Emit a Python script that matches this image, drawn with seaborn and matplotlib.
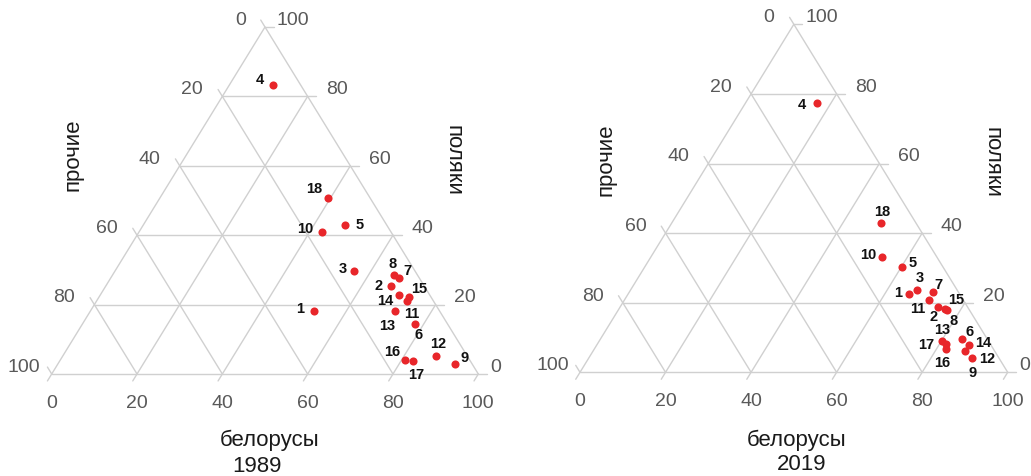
import numpy as np
import pandas as pd
import matplotlib
matplotlib.use("Agg")
import matplotlib.pyplot as plt
import seaborn as sns

# === Data (shares, %) ===
regions = [str(i) for i in range(1, 19)]
bel_1989 = [52.5, 66.9, 56.0, 10.1, 47.3, 78.0, 67.7, 65.9, 93.1, 43.0, 72.9, 87.5, 71.4, 70.1, 72.8, 80.8, 82.7, 39.5]
pol_1989 = [18.2, 25.3, 29.8, 83.4, 42.9, 14.4, 27.6, 28.6, 2.9, 40.8, 21.0, 5.1, 18.2, 22.8, 22.1, 4.1, 3.8, 50.6]
bel_2019 = [65.7, 74.4, 67.0, 16.7, 60.1, 84.4, 70.9, 76.9, 89.6, 54.0, 71.3, 86.9, 81.5, 87.1, 76.3, 82.2, 80.2, 49.0]
pol_2019 = [22.5, 18.7, 23.7, 77.3, 30.2, 9.6, 23.2, 17.8, 4.0, 33.0, 20.8, 6.2, 8.1, 7.8, 18.3, 6.7, 9.1, 42.8]
tick_values = [0, 20, 40, 60, 80, 100]

# === Label offsets (pixels, right / down) ===
offs_1989 = {"1": (-14, -3), "2": (-12, -1), "3": (-11, -3), "4": (-13, -6), "5": (15, -1),
             "6": (3, 10), "7": (8, -8), "8": (-1, -12), "9": (10, -7), "10": (-17, -4),
             "11": (4, 12), "12": (2, -13), "13": (-8, 14), "14": (-14, 5), "15": (10, -9),
             "16": (-13, -9), "17": (4, 13), "18": (-14, -10)}
offs_2019 = {"1": (-11, -2), "2": (-5, 9), "3": (3, -13), "4": (-15, 1), "5": (11, -5),
             "6": (8, -8), "7": (6, -8), "8": (7, 10), "9": (1, 14), "10": (-13, -3),
             "11": (-12, 8), "12": (22, 7), "13": (-4, -15), "14": (14, -3), "15": (11, -10),
             "16": (-4, 13), "17": (-16, 3), "18": (1, -12)}

W, H = 1031, 477
sns.set_style("white")
plt.rcParams["font.family"] = ["Liberation Sans", "DejaVu Sans"]

GRID = "#d0d0d0"
TICK = "#595959"
RED = "#e8262a"

fig = plt.figure(figsize=(W / 100, H / 100), dpi=100)


def ternary(left_px, right_px, x0, sx, y0, sy, bel, pol, offs, year, titles):
    ax = fig.add_axes([left_px / W, 0, (right_px - left_px) / W, 1])
    ax.set_xlim((left_px - x0) / sx, (right_px - x0) / sx)
    ax.set_ylim((y0 - H) / sy, y0 / sy)
    ax.set_axis_off()

    t = 2.0
    for v in tick_values:
        # polyaki (horizontal)
        ax.plot([v / 2, 100 - v / 2 + t], [v, v], color=GRID, lw=1, zorder=1)
        # belarusy
        ax.plot([v - 0.5 * t, v + (100 - v) / 2], [-t, 100 - v], color=GRID, lw=1, zorder=1)
        # prochie
        ax.plot([100 - v, (100 - v) / 2 - 0.5 * t], [0, 100 - v + t], color=GRID, lw=1, zorder=1)

        # tick labels
        gap_r = 2.8 if v in (0, 100) else 4.3
        gap_l = 2.6 if v == 100 else 4.5
        ax.text(v, -8.2, str(v), ha="center", va="center", fontsize=14, color=TICK)
        ax.text(100 - v / 2 + gap_r, v + 2.2, str(v), ha="left", va="center", fontsize=14, color=TICK)
        ax.text((100 - v) / 2 - gap_l, 100 - v + 2.2, str(v), ha="right", va="center",
                fontsize=14, color=TICK)

    df = pd.DataFrame({"region": regions, "bel": bel, "pol": pol})
    df["x"] = df["bel"] + df["pol"] / 2
    sns.scatterplot(data=df, x="x", y="pol", ax=ax, color=RED, s=34, linewidth=0, zorder=3)
    for _, r in df.iterrows():
        dx, dy = offs[r["region"]]
        ax.annotate(r["region"], (r["x"], r["pol"]), xytext=(dx, -dy),
                    textcoords="offset pixels", ha="center", va="center",
                    fontsize=10.5, fontweight="bold", color="#111111", zorder=4)

    (bx, by), (yx, yy), (ox, oy), (px_, py_) = titles
    fig.text(bx / W, 1 - by / H, "белорусы", ha="center", va="center", fontsize=16, color="#1a1a1a")
    fig.text(yx / W, 1 - yy / H, year, ha="center", va="center", fontsize=16, color="#1a1a1a")
    fig.text(ox / W, 1 - oy / H, "прочие", ha="center", va="center", rotation=90,
             fontsize=16, color="#1a1a1a")
    fig.text(px_ / W, 1 - py_ / H, "поляки", ha="center", va="center", rotation=270,
             fontsize=16, color="#1a1a1a")


ternary(0, 515, 51.7, 4.266, 375.0, 3.47, bel_1989, pol_1989, offs_1989, "1989",
        [(270, 440), (257, 467), (73, 155), (453, 160)])
ternary(515, 1031, 580.0, 4.277, 373.3, 3.48, bel_2019, pol_2019, offs_2019, "2019",
        [(797, 440), (802, 465), (606, 160), (992, 162)])

fig.savefig("out.png", dpi=100)
plt.close(fig)
